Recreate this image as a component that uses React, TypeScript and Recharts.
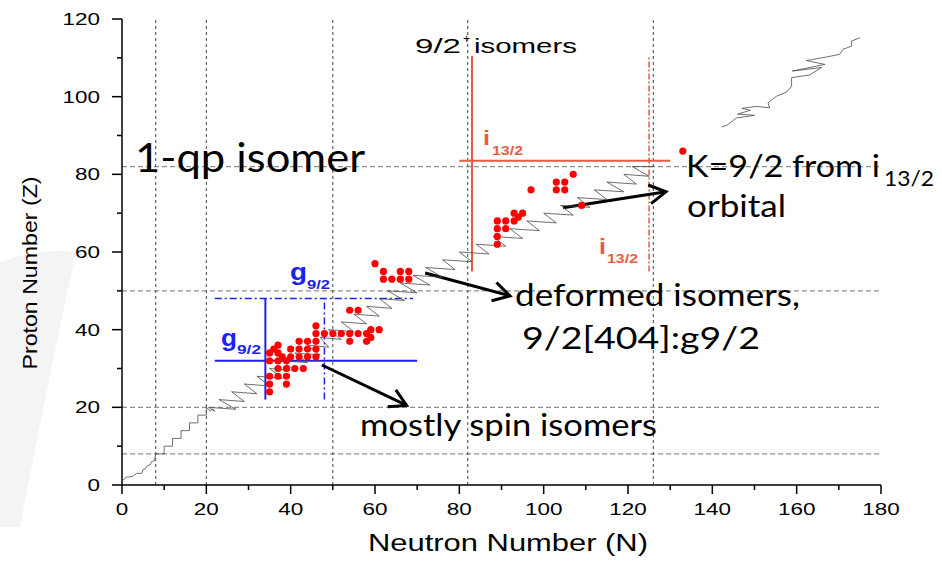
import { ScatterChart, XAxis, YAxis, Scatter, ReferenceLine } from 'recharts'

// axis ticks (major every 20, minor every 10)
const nTicks = [0, 10, 20, 30, 40, 50, 60, 70, 80, 90, 100, 110, 120, 130, 140, 150, 160, 170, 180]
const zTicks = [0, 10, 20, 30, 40, 50, 60, 70, 80, 90, 100, 110, 120]

// magic numbers drawn as dashed guides
const magicN = [8, 20, 50, 82, 126]
const magicZ = [8, 20, 50, 82]

// known 9/2+ isomers (N, Z)
const isomers = [
  { n: 35, z: 24 }, { n: 35, z: 26 }, { n: 39, z: 26 },
  { n: 35, z: 28 }, { n: 37, z: 28 }, { n: 39, z: 28 },
  { n: 37, z: 30 }, { n: 39, z: 30 }, { n: 41, z: 30 }, { n: 43, z: 30 },
  { n: 35, z: 32 }, { n: 37, z: 32 }, { n: 39, z: 32 },
  { n: 38, z: 33 }, { n: 40, z: 33 }, { n: 42, z: 33 }, { n: 44, z: 33 }, { n: 46, z: 33 },
  { n: 35, z: 34 }, { n: 37, z: 34 },
  { n: 36, z: 35 }, { n: 40, z: 35 }, { n: 42, z: 35 }, { n: 44, z: 35 }, { n: 46, z: 35 },
  { n: 37, z: 36 },
  { n: 42, z: 37 }, { n: 44, z: 37 }, { n: 46, z: 37 }, { n: 54, z: 37 }, { n: 58, z: 37 },
  { n: 59, z: 38 },
  { n: 46, z: 39 }, { n: 48, z: 39 }, { n: 50, z: 39 }, { n: 52, z: 39 }, { n: 54, z: 39 }, { n: 56, z: 39 }, { n: 58, z: 39 },
  { n: 59, z: 40 }, { n: 61, z: 40 },
  { n: 46, z: 41 },
  { n: 54, z: 45 }, { n: 56, z: 45 },
  { n: 62, z: 53 }, { n: 64, z: 53 }, { n: 66, z: 53 }, { n: 68, z: 53 },
  { n: 62, z: 55 }, { n: 66, z: 55 }, { n: 68, z: 55 },
  { n: 60, z: 57 },
  { n: 89, z: 62 }, { n: 89, z: 64 }, { n: 89, z: 66 }, { n: 91, z: 66 },
  { n: 89, z: 68 }, { n: 91, z: 68 }, { n: 93, z: 68 },
  { n: 94, z: 69 }, { n: 93, z: 70 }, { n: 95, z: 70 },
  { n: 109, z: 72 },
  { n: 97, z: 76 }, { n: 103, z: 76 }, { n: 105, z: 76 },
  { n: 103, z: 78 }, { n: 105, z: 78 },
  { n: 107, z: 80 },
  { n: 133, z: 86 },
]

// K=9/2 border line, light nuclei up to N=126
const borderLine = [
  { n: 0, z: 1 }, { n: 1, z: 2 }, { n: 2.5, z: 2.2 }, { n: 3.5, z: 3 }, { n: 4.7, z: 3 },
  { n: 5, z: 4 }, { n: 5.6, z: 4.2 }, { n: 6, z: 5 }, { n: 6.7, z: 5.2 }, { n: 7, z: 6 },
  { n: 7.7, z: 6.3 }, { n: 8, z: 8 }, { n: 10, z: 8 }, { n: 10, z: 10 }, { n: 12, z: 10 },
  { n: 12, z: 12 }, { n: 14, z: 12 }, { n: 14, z: 14 }, { n: 16, z: 14 }, { n: 16, z: 16 },
  { n: 18, z: 16 }, { n: 18, z: 18 }, { n: 20, z: 18 }, { n: 20, z: 20 },
  { n: 21, z: 19 }, { n: 21.5, z: 19.6 }, { n: 22, z: 19 }, { n: 20.5, z: 20 },
  { n: 27, z: 19.5 }, { n: 23, z: 22 }, { n: 29, z: 21.5 }, { n: 26, z: 24 },
  { n: 32, z: 23.5 }, { n: 29, z: 26 }, { n: 35, z: 25.5 }, { n: 32, z: 28 },
  { n: 38, z: 27.5 }, { n: 35, z: 30 }, { n: 41, z: 29.5 }, { n: 38, z: 32 },
  { n: 44, z: 31.5 }, { n: 41, z: 34 }, { n: 47, z: 33.5 }, { n: 44, z: 36 },
  { n: 49, z: 35.5 }, { n: 47, z: 38 }, { n: 52, z: 37.5 }, { n: 49, z: 40 },
  { n: 55, z: 39.5 }, { n: 52, z: 42 }, { n: 58, z: 41.5 }, { n: 55, z: 44 },
  { n: 61, z: 43.5 }, { n: 58, z: 46 }, { n: 64, z: 45.5 }, { n: 61, z: 48 },
  { n: 67, z: 47.5 }, { n: 63, z: 50 }, { n: 70, z: 49.5 }, { n: 66, z: 52 },
  { n: 73, z: 51.5 }, { n: 69, z: 54 }, { n: 76, z: 53.5 }, { n: 72, z: 56 },
  { n: 79, z: 55.5 }, { n: 76, z: 58 }, { n: 83, z: 57.5 }, { n: 80, z: 60 },
  { n: 87, z: 59.5 }, { n: 84, z: 62 }, { n: 91, z: 61.5 }, { n: 88, z: 64 },
  { n: 95, z: 63.5 }, { n: 92, z: 66 }, { n: 99, z: 65.5 }, { n: 96, z: 68 },
  { n: 103, z: 67.5 }, { n: 100, z: 70 }, { n: 107, z: 69.5 }, { n: 104, z: 72 },
  { n: 111, z: 71.5 }, { n: 108, z: 74 }, { n: 115, z: 73.5 }, { n: 112, z: 76 },
  { n: 119, z: 75.5 }, { n: 115, z: 78 }, { n: 122, z: 77.5 }, { n: 119, z: 80 },
  { n: 125, z: 79.5 }, { n: 121, z: 82 }, { n: 126, z: 82 },
]

// same border for the heavy end
const heavyLine = [
  { n: 142.2, z: 92.2 }, { n: 143.4, z: 92.6 }, { n: 145.7, z: 94.5 }, { n: 150, z: 95.2 },
  { n: 146, z: 95.5 }, { n: 149, z: 96.5 }, { n: 147, z: 97 }, { n: 150.5, z: 97.5 },
  { n: 153.6, z: 97.1 }, { n: 153.2, z: 98.4 }, { n: 155.2, z: 100.1 }, { n: 157.6, z: 101.2 },
  { n: 158.8, z: 102.7 }, { n: 158.8, z: 104.9 }, { n: 163.1, z: 105.6 }, { n: 165.9, z: 107.5 },
  { n: 159, z: 106.6 }, { n: 166.7, z: 108.3 }, { n: 162.3, z: 109.3 }, { n: 167, z: 110.2 },
  { n: 170.2, z: 110.9 }, { n: 171, z: 112.2 }, { n: 173, z: 113 }, { n: 173, z: 114.3 },
  { n: 175, z: 115.2 },
]

const BLUE = '#1c22ee'
const ORANGE = '#ea5a42'
const NOTE_FONT = 'Lato, "Open Sans", sans-serif'
const AXIS_FONT = '"Liberation Sans", Arial, sans-serif'

function XTick({ x, y, payload }: any) {
  const v = payload.value
  const major = v % 20 === 0
  return (
    <g>
      <line x1={x} x2={x} y1={y} y2={y + (major ? 9 : 5)} stroke="#000" strokeWidth={1.5} />
      {major && (
        <text x={x} y={y + 30} textAnchor="middle" fontSize={17} fontFamily={AXIS_FONT} fill="#000"
          textLength={String(v).length * 12.5} lengthAdjust="spacingAndGlyphs">{v}</text>
      )}
    </g>
  )
}

function YTick({ x, y, payload }: any) {
  const v = payload.value
  const major = v % 20 === 0
  return (
    <g>
      <line x1={x} x2={x - (major ? 10 : 5)} y1={y} y2={y} stroke="#000" strokeWidth={1.5} />
      {major && (
        <text x={x - 22} y={y + 6} textAnchor="end" fontSize={17} fontFamily={AXIS_FONT} fill="#000"
          textLength={String(v).length * 12.5} lengthAdjust="spacingAndGlyphs">{v}</text>
      )}
    </g>
  )
}

// thick annotation arrow with an open head
function Arrow(p: any) {
  const { x1, y1, x2, y2 } = p
  const a = Math.atan2(y2 - y1, x2 - x1)
  const len = 19
  const s = 0.52
  const h1 = `${x2 - len * Math.cos(a - s)},${y2 - len * Math.sin(a - s)}`
  const h2 = `${x2 - len * Math.cos(a + s)},${y2 - len * Math.sin(a + s)}`
  return (
    <g>
      <line x1={x1} y1={y1} x2={x2} y2={y2} stroke="#000" strokeWidth={3} />
      <polyline points={`${h1} ${x2},${y2} ${h2}`} fill="none" stroke="#000" strokeWidth={3} />
    </g>
  )
}

const noDot = () => <g />

function Note({ x, y, size, len, children, fill = '#000', weight = 400, family = NOTE_FONT }: any) {
  return (
    <text x={x} y={y} fontSize={size} fontFamily={family} fontWeight={weight} fill={fill}
      textLength={len} lengthAdjust="spacingAndGlyphs">{children}</text>
  )
}

export default function App() {
  return (
    <div style={{ position: 'absolute', left: 0, top: 0, width: 942, height: 561, background: '#fff' }}>
      <svg width={942} height={561} style={{ position: 'absolute', left: 0, top: 0 }}>
        <path d="M0,262 Q40,248 76,252 Q46,390 20,527 L0,527 Z" fill="#f4f4f4" />
      </svg>
      <div style={{ position: 'absolute', left: 0, top: 0 }}>
        <ScatterChart width={942} height={561} margin={{ top: 19, right: 61, bottom: 36, left: 50 }}>
          <XAxis type="number" dataKey="n" domain={[0, 180]} ticks={nTicks} interval={0}
            tickSize={0} tickMargin={0} tickLine={false} height={40}
            axisLine={{ stroke: '#000', strokeWidth: 1.5 }}
            tick={(p: any) => <XTick {...p} />} />
          <YAxis type="number" dataKey="z" domain={[0, 120]} ticks={zTicks} interval={0}
            tickSize={0} tickMargin={0} tickLine={false} width={72}
            axisLine={{ stroke: '#000', strokeWidth: 1.5 }}
            tick={(p: any) => <YTick {...p} />} />

          {magicZ.map(z => (
            <ReferenceLine key={'z' + z} y={z} stroke="#8f8f8f" strokeWidth={1.2} strokeDasharray="5 3" />
          ))}
          {magicN.map(n => (
            <ReferenceLine key={'n' + n} x={n} stroke="#444" strokeWidth={1} strokeDasharray="3 3" />
          ))}

          {/* g9/2 shell region */}
          <ReferenceLine segment={[{ x: 34, y: 22 }, { x: 34, y: 48 }]} stroke={BLUE} strokeWidth={2} />
          <ReferenceLine segment={[{ x: 22, y: 32 }, { x: 70, y: 32 }]} stroke={BLUE} strokeWidth={2} />
          <ReferenceLine segment={[{ x: 48, y: 22 }, { x: 48, y: 48 }]} stroke={BLUE} strokeWidth={1.5} strokeDasharray="7 3 2 3" />
          <ReferenceLine segment={[{ x: 22, y: 48 }, { x: 69, y: 48 }]} stroke={BLUE} strokeWidth={1.5} strokeDasharray="7 3 2 3" />

          {/* i13/2 shell region */}
          <ReferenceLine segment={[{ x: 83, y: 55 }, { x: 83, y: 110.5 }]} stroke={ORANGE} strokeWidth={2} />
          <ReferenceLine segment={[{ x: 80, y: 83.5 }, { x: 130, y: 83.5 }]} stroke={ORANGE} strokeWidth={2} />
          <ReferenceLine segment={[{ x: 125, y: 55 }, { x: 125, y: 110.5 }]} stroke={ORANGE} strokeWidth={1.5} strokeDasharray="6 2 2 2" />

          <Scatter data={borderLine} line={{ stroke: '#4a4a4a', strokeWidth: 0.8 }} shape={noDot} isAnimationActive={false} />
          <Scatter data={heavyLine} line={{ stroke: '#4a4a4a', strokeWidth: 0.8 }} shape={noDot} isAnimationActive={false} />
          <Scatter data={isomers} isAnimationActive={false}
            shape={(p: any) => <circle cx={p.cx} cy={p.cy} r={3.6} fill="#ff0000" />} />

          <ReferenceLine segment={[{ x: 71.9, y: 54.6 }, { x: 92, y: 48.7 }]} shape={Arrow} />
          <ReferenceLine segment={[{ x: 104.6, y: 71.4 }, { x: 129, y: 75.5 }]} shape={Arrow} />
          <ReferenceLine segment={[{ x: 47.4, y: 30.9 }, { x: 67.5, y: 20.5 }]} shape={Arrow} />
        </ScatterChart>
      </div>
      <svg width={942} height={561} style={{ position: 'absolute', left: 0, top: 0, pointerEvents: 'none' }}>
        <text transform="translate(37,273) rotate(-90)" textAnchor="middle" fontSize={21} fontFamily={AXIS_FONT}
          textLength={193} lengthAdjust="spacingAndGlyphs">Proton Number (Z)</text>
        <text x={508} y={551} textAnchor="middle" fontSize={23} fontFamily={AXIS_FONT}
          textLength={280} lengthAdjust="spacingAndGlyphs">Neutron Number (N)</text>

        <Note x={135} y={172} size={40} len={230}>1-qp isomer</Note>

        <Note x={415} y={53} size={21} len={46} family={AXIS_FONT}>9/2</Note>
        <Note x={463} y={43} size={12} len={7} family={AXIS_FONT}>+</Note>
        <Note x={474} y={53} size={21} len={103} family={AXIS_FONT}>isomers</Note>

        <Note x={483} y={145} size={20} len={7} fill={ORANGE} weight={700} family={AXIS_FONT}>i</Note>
        <Note x={492} y={155} size={13} len={31} fill={ORANGE} weight={700} family={AXIS_FONT}>13/2</Note>
        <Note x={599} y={254} size={22} len={7} fill={ORANGE} weight={700} family={AXIS_FONT}>i</Note>
        <Note x={607} y={263} size={13} len={31} fill={ORANGE} weight={700} family={AXIS_FONT}>13/2</Note>

        <Note x={290} y={280} size={23} len={17} fill={BLUE} weight={700} family={AXIS_FONT}>g</Note>
        <Note x={307} y={289} size={13} len={23} fill={BLUE} weight={700} family={AXIS_FONT}>9/2</Note>
        <Note x={221} y={346} size={23} len={16} fill={BLUE} weight={700} family={AXIS_FONT}>g</Note>
        <Note x={237} y={354} size={13} len={24} fill={BLUE} weight={700} family={AXIS_FONT}>9/2</Note>

        <Note x={686} y={177} size={31} len={194}>K=9/2 from i</Note>
        <Note x={884} y={186} size={21} len={50}>13/2</Note>
        <Note x={687} y={217} size={31} len={99}>orbital</Note>

        <Note x={515} y={306} size={31} len={285}>deformed isomers,</Note>
        <Note x={522} y={349} size={31} len={238}>9/2[404]:g9/2</Note>
        <Note x={360} y={436} size={31} len={297}>mostly spin isomers</Note>
      </svg>
    </div>
  )
}
